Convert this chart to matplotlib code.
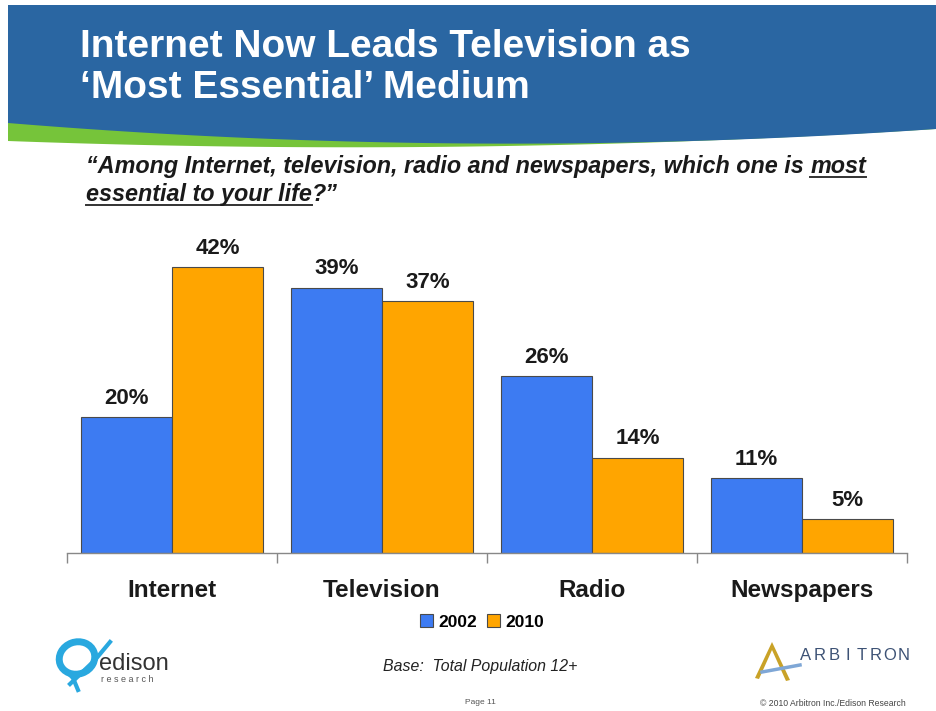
import matplotlib
matplotlib.use("Agg")
import matplotlib.pyplot as plt
from matplotlib.patches import Polygon, Ellipse
import numpy as np

plt.rcParams['font.family'] = ['Liberation Sans', 'DejaVu Sans']

categories = ["Internet", "Television", "Radio", "Newspapers"]
years = ["2002", "2010"]
share_2002 = [20, 39, 26, 11]
share_2010 = [42, 37, 14, 5]

BLUE = "#3D7BF2"
ORANGE = "#FFA500"
HEADER = "#2A66A2"
GREEN = "#76C43A"

W, H = 936, 711
fig = plt.figure(figsize=(W / 100, H / 100), dpi=100)
fig.patch.set_facecolor("white")

# background layer in pixel coordinates for header, logos and footer
bg = fig.add_axes([0, 0, 1, 1])
bg.set_xlim(0, W)
bg.set_ylim(H, 0)
bg.axis("off")

xs = np.linspace(8, W, 200)
t = (xs - 8) / (W - 8)
blue_bottom = 123 + 70 * t * (1 - t) + 6 * t
green_bottom = 141 + 34 * t * (1 - t) - 12 * t ** 2
green_poly = np.vstack([np.column_stack([xs, blue_bottom - 4]),
                        np.column_stack([xs[::-1], green_bottom[::-1]])])
bg.add_patch(Polygon(green_poly, closed=True, facecolor=GREEN, edgecolor="none"))
blue_poly = np.vstack([[[8, 5], [W, 5]],
                       np.column_stack([xs[::-1], blue_bottom[::-1]])])
bg.add_patch(Polygon(blue_poly, closed=True, facecolor=HEADER, edgecolor="none"))

bg.text(80, 47, "Internet Now Leads Television as", color="white",
        fontsize=28, fontweight="bold", va="center", ha="left")
bg.text(80, 88, "\u2018Most Essential\u2019 Medium", color="white",
        fontsize=28, fontweight="bold", va="center", ha="left")

# question text with underlined words
q_style = dict(fontsize=16.8, fontweight="bold", fontstyle="italic",
               color="#1a1a1a", va="baseline", ha="left")
fig.canvas.draw()
renderer = fig.canvas.get_renderer()


def put_pieces(pieces, x0, y0):
    x = x0
    for txt, underline in pieces:
        t_obj = bg.text(x, y0, txt, **q_style)
        w = t_obj.get_window_extent(renderer).width
        if underline:
            bg.plot([x, x + w], [y0 + 4, y0 + 4], color="#333333", lw=1.4)
        x += w


put_pieces([("\u201cAmong Internet, television, radio and newspapers, which one is ", False),
            ("most", True)], 86, 173)
put_pieces([("essential to your life", True), ("?\u201d", False)], 86, 201)

# main bar chart
ax = fig.add_axes([67 / W, 1 - 553 / H, 840 / W, 306 / H])
x = np.arange(len(categories))
bw = 0.435
b1 = ax.bar(x - bw / 2, share_2002, bw, color=BLUE, edgecolor="#4a4a4a",
            linewidth=0.8, label=years[0])
b2 = ax.bar(x + bw / 2, share_2010, bw, color=ORANGE, edgecolor="#4a4a4a",
            linewidth=0.8, label=years[1])
for bars, vals in ((b1, share_2002), (b2, share_2010)):
    for rect, v in zip(bars, vals):
        ax.annotate(f"{v}%", (rect.get_x() + rect.get_width() / 2, v),
                    xytext=(0, 6), textcoords="offset points", ha="center",
                    va="bottom", fontsize=16, fontweight="bold",
                    color="#1a1a1a", annotation_clip=False)

ax.set_xlim(-0.5, len(categories) - 0.5)
ax.set_ylim(0, 45)
for s in ("top", "right", "left"):
    ax.spines[s].set_visible(False)
ax.spines["bottom"].set_color("#888888")
ax.spines["bottom"].set_linewidth(1.0)
ax.set_yticks([])
ax.set_xticks(np.arange(-0.5, len(categories), 1.0))
ax.set_xticklabels([])
ax.tick_params(axis="x", which="major", length=7, color="#888888", width=1.0)
ax.set_xticks(x, minor=True)
ax.set_xticklabels(categories, minor=True, fontsize=17.5, fontweight="bold",
                   color="#1a1a1a")
ax.tick_params(axis="x", which="minor", length=0, pad=19)

leg = fig.legend(handles=[b1, b2], labels=years, loc="center",
                 bbox_to_anchor=(482 / W, 1 - 622 / H), ncol=2, frameon=False,
                 handlelength=0.75, handleheight=0.75, handletextpad=0.3,
                 columnspacing=0.6, prop=dict(size=12.5, weight="bold"))

# edison logo
bg.add_patch(Ellipse((77, 658), 36, 32, angle=-20, fill=False,
                     edgecolor="#29A8DF", linewidth=5))
bg.plot([70, 95, 110], [684, 660, 642], color="#29A8DF", lw=3)
bg.plot([60, 73, 78], [665, 678, 690], color="#29A8DF", lw=3)
bg.text(99, 664, "edison", fontsize=17, color="#333333", va="center", ha="left")
bg.text(101, 680, "r e s e a r c h", fontsize=6.5, color="#555555",
        va="center", ha="left")

# arbitron logo
bg.add_patch(Polygon([[755, 678], [772, 642], [790, 680], [786, 681],
                      [772, 650], [759, 679]], closed=True,
                     facecolor="#C9A227", edgecolor="none"))
bg.plot([762, 800], [672, 665], color="#7FA7D6", lw=2.5)
for i, ch in enumerate("ARBITRON"):
    bg.text(806 + i * 14.0, 655, ch, fontsize=12, color="#3D5275",
            va="center", ha="center")

# footer
bg.text(480, 667, "Base:  Total Population 12+", fontsize=11.4,
        fontstyle="italic", color="#222222", ha="center", va="center")
bg.text(480, 703, "Page 11", fontsize=6, color="#555555", ha="center",
        va="center")
bg.text(833, 703, "\u00a9 2010 Arbitron Inc./Edison Research", fontsize=6.2,
        color="#444444", ha="center", va="center")

fig.savefig("out.png", dpi=100)
